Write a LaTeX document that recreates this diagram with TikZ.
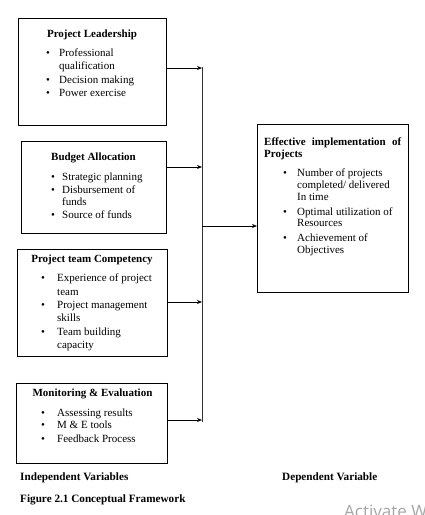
\documentclass[tikz,border=0pt]{standalone}
\usepackage{fontspec}
\setmainfont{Liberation Serif}
\newfontfamily\wmfont{Open Sans}
\usetikzlibrary{arrows.meta}
\begin{document}
\begin{tikzpicture}[x=1pt,y=-1pt,
 box/.style={draw, line width=0.9pt, anchor=north west, inner sep=0pt},
 ttl/.style={font=\bfseries\fontsize{11}{13}\selectfont, anchor=base, inner sep=0pt},
 lbl/.style={font=\bfseries\fontsize{11.2}{13}\selectfont, anchor=base west, inner sep=0pt},
 itm/.style={font=\fontsize{11}{13}\selectfont, anchor=base west, inner sep=0pt},
 bul/.style={font=\fontsize{11}{13}\selectfont, anchor=base, inner sep=0pt},
 arr/.style={-{Stealth[length=5pt,width=4pt]}, line width=0.8pt},
 vline/.style={line width=0.9pt, draw=black!80}]
\useasboundingbox (0,0) rectangle (424,515);
\clip (0,0) rectangle (424,515);
% boxes
\node[box, minimum width=148pt, minimum height=107pt] (b1) at (18,18) {};
\node[box, minimum width=145pt, minimum height=92pt] (b2) at (21,141) {};
\node[box, minimum width=150pt, minimum height=107pt] (b3) at (17,249) {};
\node[box, minimum width=151pt, minimum height=80pt] (b4) at (16,383) {};
\node[box, minimum width=151pt, minimum height=168pt] (e) at (257,124) {};
% box 1
\node[ttl] (t1) at (92,37.5) {Project Leadership};
\node[bul] (u11) at (48,56.2) {\textbullet};
\node[itm] (l11) at (59,56.2) {Professional};
\node[itm] (l12) at (59,69.2) {qualification};
\node[bul] (u13) at (48,83.2) {\textbullet};
\node[itm] (l13) at (59,83.2) {Decision making};
\node[bul] (u14) at (48,96.2) {\textbullet};
\node[itm] (l14) at (59,96.2) {Power exercise};
% box 2
\node[ttl] (t2) at (93.5,160.5) {Budget Allocation};
\node[bul] (u21) at (53,180.2) {\textbullet};
\node[itm] (l21) at (62,180.2) {Strategic planning};
\node[bul] (u22) at (53,193.2) {\textbullet};
\node[itm] (l22) at (62,193.2) {Disbursement of};
\node[itm] (l23) at (62,205.2) {funds};
\node[bul] (u24) at (53,218.2) {\textbullet};
\node[itm] (l24) at (62,218.2) {Source of funds};
% box 3
\node[ttl] (t3) at (92,262.5) {Project team Competency};
\node[bul] (u31) at (43,281.2) {\textbullet};
\node[itm] (l31) at (57,281.2) {Experience of project};
\node[itm] (l32) at (57,295.2) {team};
\node[bul] (u33) at (43,308.2) {\textbullet};
\node[itm] (l33) at (57,308.2) {Project management};
\node[itm] (l34) at (57,321.2) {skills};
\node[bul] (u35) at (43,335.2) {\textbullet};
\node[itm] (l35) at (57,335.2) {Team building};
\node[itm] (l36) at (57,348.2) {capacity};
% box 4
\node[ttl] (t4) at (92.5,396.5) {Monitoring \& Evaluation};
\node[bul] (u41) at (43,416.2) {\textbullet};
\node[itm] (l41) at (57,416.2) {Assessing results};
\node[bul] (u42) at (43,428.2) {\textbullet};
\node[itm] (l42) at (57,428.2) {M \& E tools};
\node[bul] (u43) at (43,442.2) {\textbullet};
\node[itm] (l43) at (57,442.2) {Feedback Process};
% effective box
\node[lbl, font=\bfseries\fontsize{11}{13}\selectfont] (te1) at (264,145.2) {\hbox to 137pt{Effective\hfill implementation\hfill of}};
\node[lbl, font=\bfseries\fontsize{11}{13}\selectfont] (te2) at (264,157) {Projects};
\node[bul] (ue1) at (285,176.2) {\textbullet};
\node[itm] (le1) at (297,176.2) {Number of projects};
\node[itm] (le2) at (297,188.2) {completed/ delivered};
\node[itm] (le3) at (297,200.2) {In time};
\node[bul] (ue4) at (285,215.2) {\textbullet};
\node[itm] (le4) at (297,215.2) {Optimal utilization of};
\node[itm] (le5) at (297,226.2) {Resources};
\node[bul] (ue6) at (285,241.2) {\textbullet};
\node[itm] (le6) at (297,241.2) {Achievement of};
\node[itm] (le7) at (297,253.2) {Objectives};
% labels
\node[lbl] (iv) at (20,480.5) {Independent Variables};
\node[lbl] (fig) at (20,502.5) {Figure 2.1 Conceptual Framework};
\node[lbl] (dv) at (282,480.5) {Dependent Variable};
% connectors
\coordinate (j0) at (202,67);
\coordinate (j1) at (202,68);
\coordinate (j2) at (202,167);
\coordinate (jm) at (202,226);
\coordinate (j3) at (202,302);
\coordinate (j4) at (202,420);
\coordinate (j5) at (202,422);
\draw[vline] (j0) -- (j5);
\draw[arr] (b1.east |- j1) -- (j1);
\draw[arr] (b2.east |- j2) -- (j2);
\draw[arr] (b3.east |- j3) -- (j3);
\draw[arr] (b4.east |- j4) -- (j4);
\draw[arr] (jm) -- (e.west |- jm);
% watermark
\node[anchor=base west, inner sep=0pt, text=black!35, font=\wmfont\fontsize{17}{20}\selectfont] (wm) at (344,517) {Activate W};
\end{tikzpicture}
\end{document}
